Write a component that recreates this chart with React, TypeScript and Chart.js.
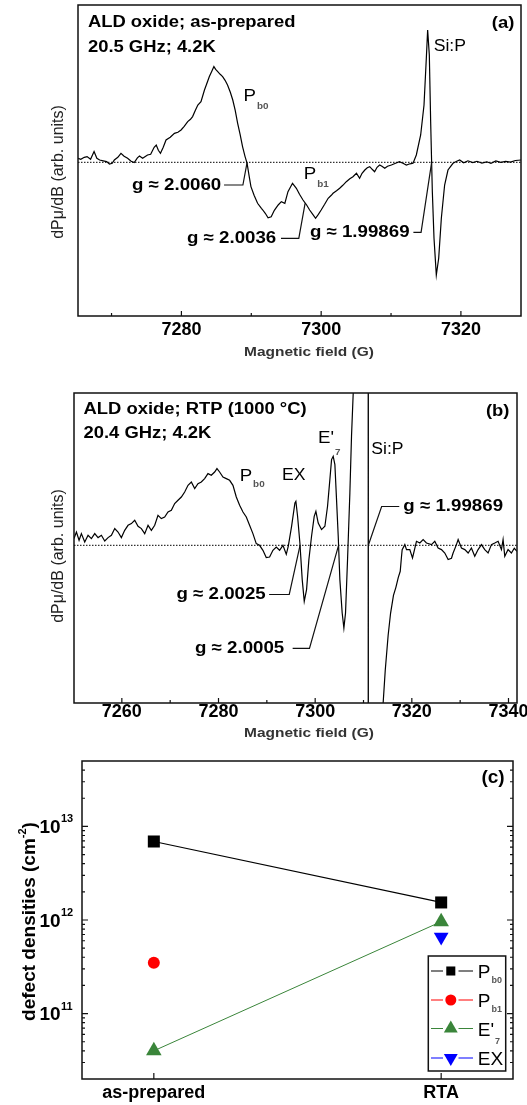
import React, { useEffect, useRef } from 'react';
import { Chart, registerables } from 'chart.js';

Chart.register(...registerables);

const FONT = '"Liberation Sans", Arial, Helvetica, sans-serif';
const INK = '#111';

// ---------------- Panel (a): ALD oxide, as-prepared ----------------
const fieldA = [
  7265.2, 7265.6, 7266.1, 7266.5, 7267.0, 7267.5, 7267.9, 7268.3, 7268.8, 7269.3,
  7269.7, 7270.1, 7270.4, 7270.9, 7271.35, 7271.8, 7272.3, 7272.8, 7273.25, 7273.7,
  7274.0, 7274.45, 7275.15, 7275.6, 7276.1, 7276.4, 7276.7, 7277.0, 7277.4, 7277.8,
  7278.4, 7279.0, 7279.5, 7279.95, 7280.4, 7280.9, 7281.3, 7281.6, 7282.0, 7282.35,
  7282.8, 7283.3, 7283.6, 7284.0, 7284.35, 7284.65, 7284.9, 7285.2, 7285.55, 7285.9,
  7286.25, 7286.6, 7287.0, 7287.35, 7287.7, 7288.05, 7288.4, 7288.75, 7289.1, 7289.4,
  7289.7, 7289.95, 7290.4, 7290.9, 7291.45, 7291.65, 7292.0, 7292.4, 7292.85, 7293.3,
  7293.85, 7294.3, 7294.8, 7295.25, 7295.9, 7296.45, 7296.9, 7297.4, 7297.9, 7298.35,
  7298.8, 7299.2, 7299.6, 7300.0, 7300.5, 7301.0, 7301.45, 7301.7, 7302.2, 7302.65,
  7303.1, 7303.6, 7304.1, 7304.55, 7305.05, 7305.5, 7305.85, 7306.25, 7306.6, 7306.95,
  7307.3, 7307.65, 7308.0, 7308.37, 7308.7, 7309.1, 7309.5, 7310.05, 7310.65, 7311.2,
  7311.7, 7312.2, 7312.7, 7313.15, 7313.62, 7314.24, 7314.72, 7315.05, 7315.24, 7315.48,
  7315.67, 7315.91, 7316.15, 7316.48, 7316.82, 7317.2, 7317.67, 7318.15, 7318.87, 7319.4,
  7319.82, 7320.4, 7321.0, 7321.7, 7322.3, 7323.0, 7323.7, 7324.3, 7325.0, 7325.7,
  7326.4, 7327.1, 7327.8, 7328.6,
];
const signalA = [
  4, 3, 5, 5.7, 3, 10.7, 4, 2.3, 1.5, 0.7,
  -1.7, -1, 2.3, 5, 9, 6, 4, 1, -0.3, 4.5,
  6.3, 4, 7.3, 8, 15, 17.3, 12, 9, 15, 22.3,
  25, 29, 30, 32.3, 36, 40.7, 43, 45.7, 52, 57.3,
  60.7, 72.3, 78, 85.7, 91, 95.7, 93, 90.7, 88, 85.7,
  82, 77.3, 70, 62.3, 52, 39, 28, 15.7, 6, -1,
  -14, -24.3, -33, -41, -46, -47.7, -51, -55.5, -54.4, -48,
  -42.7, -39.4, -41, -29.4, -21, -26, -32, -37.7, -42.5, -47.7,
  -52, -56, -52, -47.7, -42, -36, -33, -31, -28.5, -26,
  -23, -19.4, -16.5, -14.4, -11, -16, -11, -7.7, -5.5, -4.4,
  -7, -9.4, -5, -2.7, -4, -6, -4, -2.7, -1, 0.6,
  -1, -2.7, -1.5, -1, 7.3, 27.3, 57.3, 104, 132.3, 107.3,
  40.7, -29.3, -76, -112.7, -96, -56, -22.7, -7.7, -1, 1,
  2.3, -0.5, 1.5, -0.3, 1, -0.8, 0.5, -1, 1.3, 0,
  1, 0.2, 1.8, 2.3,
];
const ticksA = [7280, 7300, 7320];
const minorTicksA = [7270, 7290, 7310];

// ---------------- Panel (b): ALD oxide, RTP (1000 °C) ----------------
const fieldB = [
  7250.1, 7250.6, 7251.15, 7251.63, 7252.32, 7253.01, 7253.7, 7254.39, 7255.08, 7255.77,
  7256.46, 7257.15, 7257.84, 7258.53, 7259.21, 7259.9, 7260.59, 7261.28, 7261.97, 7262.66,
  7263.35, 7264.04, 7264.73, 7265.42, 7266.11, 7266.8, 7267.48, 7268.17, 7268.86, 7269.55,
  7270.24, 7270.93, 7271.62, 7272.31, 7273.0, 7273.69, 7274.38, 7275.07, 7275.75, 7276.44,
  7277.13, 7277.82, 7278.51, 7279.2, 7279.68, 7280.23, 7280.92, 7281.61, 7282.3, 7282.99,
  7283.68, 7284.37, 7285.06, 7285.75, 7286.43, 7287.12, 7287.81, 7288.5, 7289.19, 7289.88,
  7290.57, 7291.26, 7291.95, 7292.64, 7293.33, 7294.02, 7294.43, 7295.12, 7295.81, 7296.01,
  7296.36, 7296.84, 7297.32, 7297.74, 7298.22, 7298.7, 7299.25, 7299.8, 7300.15, 7300.63,
  7301.32, 7302.01, 7302.56, 7303.04, 7303.39, 7303.73, 7304.08, 7304.42, 7304.77, 7305.11,
  7305.59, 7305.94, 7306.28, 7306.7, 7307.18, 7307.52, 7307.87, 7308.21, 7309.2, 7310.2,
  7310.95, 7311.0, 7312.2, 7313.5, 7314.06, 7314.5, 7315.1, 7315.6, 7316.2, 7316.7,
  7317.2, 7317.6, 7317.85, 7318.0, 7318.55, 7318.9, 7319.58, 7320.14, 7320.96, 7321.65,
  7322.34, 7323.03, 7324.06, 7324.75, 7325.44, 7326.13, 7326.82, 7327.51, 7328.2, 7328.54,
  7329.23, 7329.58, 7330.27, 7330.96, 7331.65, 7332.33, 7333.02, 7333.71, 7334.4, 7335.09,
  7335.78, 7336.47, 7337.16, 7337.85, 7338.54, 7338.88, 7339.23, 7339.91, 7340.6, 7341.2,
  7341.76,
];
const signalB = [
  6.7, 13.3, 5, 11.7, 3.3, 10, 6.7, 11.7, 7.7, 10,
  4.3, 7.7, 10, 16.7, 13.3, 7.7, 15, 20, 21.7, 25,
  19, 16.7, 11.7, 20, 15, 20, 30, 26.7, 28.3, 33.3,
  35, 41.7, 45, 48.3, 53.3, 60, 63.3, 56.7, 61.7, 63.3,
  66.7, 71.7, 70, 73.3, 76.7, 73.3, 68.3, 66.7, 65, 60,
  48.3, 40, 33.3, 28.3, 20, 11.7, 1.7, 0, -5, -12.3,
  -11.7, -5, -1.7, -5, 0, -9, -1, 19, 42.3, 44,
  29, 2.3, -34.3, -56, -44.3, -14.3, 9, 29, 34, 22.3,
  15.7, 19, 39, 65.7, 85.7, 89, 80.7, 45.7, 9, -34.3,
  -67.7, -82.7, -67.7, -14.3, 52.3, 109, 152, 220, 500, 850,
  1000, -1000, -800, -350, -158, -125, -90, -68, -50, -42,
  -32, -26, -12, -4.3, 0.7, -4.3, -4.3, -12.7, 4, 2.3,
  5.7, 2.3, 0.7, 4, -2.7, -4.3, -7.7, -14.3, -13, -7.7,
  0.7, 5.7, -2.7, -4.3, -7.7, -2.7, -11, -4.3, 0.7, -4.3,
  -7.7, 0.7, 2.3, 4, -4.3, 5.7, -11, -4.3, -7.7, -3,
  -6,
];
const ticksB = [7260, 7280, 7300, 7320, 7340];
const minorTicksB = [7270, 7290, 7310, 7330];

// ---------------- Panel (c): defect densities ----------------
const categoriesC = ['as-prepared', 'RTA'];
const pb0Density = [6.9e12, 1.54e12];
const pb1Density = [3.5e11, null];
const e7Density = [4.0e10, 9.6e11];
const exDensity = [null, 6.6e11];
const decadeTicksC = [1e11, 1e12, 1e13];

// ---------------- annotations (data coordinates) ----------------
const notesA = [
  { t: 'ALD oxide; as-prepared', x: 7266.62, y: 139.5, size: 16, bold: true, sx: 1.15 },
  { t: '20.5 GHz; 4.2K', x: 7266.62, y: 115, size: 16, bold: true, sx: 1.15 },
  { t: '(a)', x: 7327.65, y: 138.3, size: 16, bold: true, sx: 1.15, align: 'right' },
  { t: 'Si:P', x: 7316.1, y: 115.8, size: 16, sx: 1.1 },
  { t: 'P', sub: 'b0', x: 7288.9, y: 65.8, size: 17, sx: 1.1, subDy: 10.5 },
  { t: 'P', sub: 'b1', x: 7297.5, y: -11.7, size: 17, sx: 1.1, subDy: 10.5 },
  { t: 'g ≈ 2.0060', x: 7285.7, y: -22.7, size: 17, bold: true, sx: 1.1, align: 'right' },
  { t: 'g ≈ 2.0036', x: 7293.57, y: -76, size: 17, bold: true, sx: 1.1, align: 'right' },
  { t: 'g ≈ 1.99869', x: 7312.65, y: -70, size: 17, bold: true, sx: 1.1, align: 'right' },
];
const leadersA = [
  [[7286.1, -22.7], [7288.8, -22.7], [7289.4, 0]],
  [[7294.25, -76], [7296.8, -76], [7297.7, -41]],
  [[7313.2, -70], [7314.3, -70], [7315.81, 0]],
];

const notesB = [
  { t: 'ALD oxide; RTP (1000 °C)', x: 7252.07, y: 135.3, size: 16, bold: true, sx: 1.15 },
  { t: '20.4 GHz; 4.2K', x: 7252.07, y: 112, size: 16, bold: true, sx: 1.15 },
  { t: '(b)', x: 7340.2, y: 133.6, size: 16, bold: true, sx: 1.15, align: 'right' },
  { t: "E'", sub: '7', x: 7300.6, y: 107.3, size: 17, sx: 1.1, subDy: 15 },
  { t: 'Si:P', x: 7311.6, y: 95.8, size: 16, sx: 1.1 },
  { t: 'P', sub: 'b0', x: 7284.37, y: 69.3, size: 17, sx: 1.1, subDy: 8.5 },
  { t: 'EX', x: 7293.15, y: 69.3, size: 16, sx: 1.1 },
  { t: 'g ≈ 2.0025', x: 7289.77, y: -49.2, size: 17, bold: true, sx: 1.1, align: 'right' },
  { t: 'g ≈ 2.0005', x: 7293.6, y: -103, size: 17, bold: true, sx: 1.1, align: 'right' },
  { t: 'g ≈ 1.99869', x: 7318.25, y: 38.8, size: 17, bold: true, sx: 1.1 },
];
const leadersB = [
  [[7290.47, -49.2], [7294.64, -49.2], [7296.87, 0]],
  [[7295.34, -103], [7298.82, -103], [7304.84, 0]],
  [[7317.4, 38.8], [7313.75, 38.8], [7311.0, 0]],
];

// ---------------- drawing helpers ----------------
function drawText(ctx: any, s: string, x: number, y: number, o: any): number {
  const sx = o.sx ?? 1;
  ctx.save();
  ctx.translate(x, y);
  if (o.rot) ctx.rotate(o.rot);
  ctx.scale(sx, 1);
  ctx.font = `${o.bold ? 'bold ' : ''}${o.size}px ${FONT}`;
  ctx.fillStyle = o.color ?? '#000';
  ctx.textAlign = o.align ?? 'left';
  ctx.textBaseline = 'middle';
  ctx.fillText(s, 0, 0);
  const w = ctx.measureText(s).width * sx;
  ctx.restore();
  return w;
}

function drawFrame(ctx: any, a: any) {
  ctx.save();
  ctx.strokeStyle = INK;
  ctx.lineWidth = 1.5;
  ctx.strokeRect(a.left, a.top, a.right - a.left, a.bottom - a.top);
  ctx.restore();
}

function drawXTicks(ctx: any, chart: any, majors: number[], minors: number[], majLen: number, minLen: number) {
  const xs = chart.scales.x;
  const a = chart.chartArea;
  ctx.save();
  ctx.strokeStyle = INK;
  ctx.lineWidth = 1.2;
  ctx.beginPath();
  majors.forEach((v) => {
    const p = xs.getPixelForValue(v);
    ctx.moveTo(p, a.bottom);
    ctx.lineTo(p, a.bottom - majLen);
  });
  minors.forEach((v) => {
    const p = xs.getPixelForValue(v);
    ctx.moveTo(p, a.bottom);
    ctx.lineTo(p, a.bottom - minLen);
  });
  ctx.stroke();
  ctx.restore();
}

function drawNotes(ctx: any, chart: any, notes: any[]) {
  const xs = chart.scales.x;
  const ys = chart.scales.y;
  notes.forEach((n) => {
    const px = xs.getPixelForValue(n.x);
    const py = ys.getPixelForValue(n.y);
    const w = drawText(ctx, n.t, px, py, n);
    if (n.sub) {
      drawText(ctx, n.sub, px + w + (n.subDx ?? 1), py + (n.subDy ?? 9), { size: 9, bold: true, color: '#555', sx: n.sx });
    }
  });
}

function drawLeaders(ctx: any, chart: any, leaders: number[][][]) {
  const xs = chart.scales.x;
  const ys = chart.scales.y;
  ctx.save();
  ctx.strokeStyle = INK;
  ctx.lineWidth = 1.2;
  leaders.forEach((pts) => {
    ctx.beginPath();
    pts.forEach(([gx, gy], i) => {
      const px = xs.getPixelForValue(gx);
      const py = ys.getPixelForValue(gy);
      if (i === 0) ctx.moveTo(px, py);
      else ctx.lineTo(px, py);
    });
    ctx.stroke();
  });
  ctx.restore();
}

function drawMarker(ctx: any, style: string, x: number, y: number, r: number, color: string, rotDeg: number) {
  ctx.save();
  ctx.translate(x, y);
  ctx.rotate(((rotDeg || 0) * Math.PI) / 180);
  ctx.fillStyle = color;
  ctx.beginPath();
  if (style === 'rect') {
    const h = r * Math.SQRT1_2;
    ctx.rect(-h, -h, 2 * h, 2 * h);
  } else if (style === 'triangle') {
    ctx.moveTo(0, -r);
    ctx.lineTo(r * 0.866, r * 0.5);
    ctx.lineTo(-r * 0.866, r * 0.5);
    ctx.closePath();
  } else {
    ctx.arc(0, 0, r, 0, Math.PI * 2);
  }
  ctx.fill();
  ctx.restore();
}

function spectrumDecor(notes: any[], leaders: number[][][], majors: number[], minors: number[], yTitleY: number, xTitleY: number) {
  return {
    id: 'spectrumDecor',
    beforeDatasetsDraw(chart: any) {
      const ctx = chart.ctx;
      const a = chart.chartArea;
      const y0 = chart.scales.y.getPixelForValue(0);
      ctx.save();
      ctx.strokeStyle = '#000';
      ctx.lineWidth = 1;
      ctx.setLineDash([1.5, 1.5]);
      ctx.beginPath();
      ctx.moveTo(a.left, y0);
      ctx.lineTo(a.right, y0);
      ctx.stroke();
      ctx.restore();
    },
    afterDatasetsDraw(chart: any) {
      const ctx = chart.ctx;
      const a = chart.chartArea;
      drawFrame(ctx, a);
      drawXTicks(ctx, chart, majors, minors, 5, 3);
      drawLeaders(ctx, chart, leaders);
      drawNotes(ctx, chart, notes);
      drawText(ctx, 'dPμ/dB (arb. units)', 59, yTitleY, { size: 16, rot: -Math.PI / 2, align: 'center', color: '#222' });
      drawText(ctx, 'Magnetic field (G)', 309, xTitleY, { size: 13, bold: true, sx: 1.19, align: 'center', color: '#333' });
    },
  };
}

function spectrumConfig(field: number[], signal: number[], xMin: number, xMax: number, yMin: number, yMax: number, pad: any, xHeight: number, ticks: number[], tickPad: number, decor: any): any {
  return {
    type: 'line',
    data: {
      datasets: [
        {
          data: field.map((x, i) => ({ x, y: signal[i] })),
          borderColor: '#000',
          borderWidth: 1.2,
          pointRadius: 0,
          tension: 0,
          fill: false,
        },
      ],
    },
    options: {
      animation: false,
      responsive: false,
      maintainAspectRatio: false,
      events: [],
      layout: { padding: pad },
      plugins: { legend: { display: false }, tooltip: { enabled: false }, title: { display: false } },
      scales: {
        x: {
          type: 'linear',
          min: xMin,
          max: xMax,
          grid: { display: false, drawTicks: false },
          border: { display: false },
          afterBuildTicks: (s: any) => {
            s.ticks = ticks.map((value) => ({ value }));
          },
          afterFit: (s: any) => {
            s.height = xHeight;
            s.paddingLeft = 0;
            s.paddingRight = 0;
          },
          ticks: {
            autoSkip: false,
            maxRotation: 0,
            minRotation: 0,
            padding: tickPad,
            color: '#000',
            font: { family: FONT, size: 18, weight: 'bold', lineHeight: 1 },
            callback: (v: any) => String(v),
          },
        },
        y: { type: 'linear', display: false, min: yMin, max: yMax },
      },
    },
    plugins: [decor],
  };
}

const legendRowsC = [223, 252, 280.5, 310];
const legendRadiiC = [6.4, 5.5, 8, 8];

const densityDecor = {
  id: 'densityDecor',
  afterDatasetsDraw(chart: any) {
    const ctx = chart.ctx;
    const a = chart.chartArea;
    const ys = chart.scales.y;
    const xs = chart.scales.x;
    drawFrame(ctx, a);
    // ticks (inward) on left and right axes, bottom categories
    ctx.save();
    ctx.strokeStyle = INK;
    ctx.lineWidth = 1.2;
    ctx.beginPath();
    for (let k = 10; k <= 13; k++) {
      for (let m = 1; m <= 9; m++) {
        const v = m * Math.pow(10, k);
        if (v <= ys.min * 1.001 || v >= ys.max * 0.999) continue;
        const p = ys.getPixelForValue(v);
        const len = m === 1 ? 6 : 3;
        ctx.moveTo(a.left, p);
        ctx.lineTo(a.left + len, p);
        ctx.moveTo(a.right, p);
        ctx.lineTo(a.right - len, p);
      }
    }
    categoriesC.forEach((_, i) => {
      const p = xs.getPixelForValue(i);
      ctx.moveTo(p, a.bottom);
      ctx.lineTo(p, a.bottom - 6);
    });
    ctx.stroke();
    ctx.restore();
    // y tick labels 10^n
    decadeTicksC.forEach((v) => {
      const p = ys.getPixelForValue(v);
      const exp = Math.round(Math.log10(v));
      drawText(ctx, '10', 60.6, p + 1.5, { size: 19, bold: true, align: 'right' });
      drawText(ctx, String(exp), 61, p - 7, { size: 11, bold: true });
    });
    // y title with superscript
    ctx.save();
    ctx.translate(30, 173.5);
    ctx.rotate(-Math.PI / 2);
    ctx.fillStyle = '#000';
    ctx.textBaseline = 'middle';
    ctx.textAlign = 'left';
    const big = `bold 19px ${FONT}`;
    const small = `bold 11px ${FONT}`;
    ctx.font = big;
    const p1 = 'defect densities (cm';
    const w1 = ctx.measureText(p1).width;
    const w3 = ctx.measureText(')').width;
    ctx.font = small;
    const w2 = ctx.measureText('-2').width;
    const x0 = -(w1 + w2 + w3) / 2;
    ctx.font = big;
    ctx.fillText(p1, x0, 0);
    ctx.font = small;
    ctx.fillText('-2', x0 + w1, -7);
    ctx.font = big;
    ctx.fillText(')', x0 + w1 + w2, 0);
    ctx.restore();
    // panel label
    drawText(ctx, '(c)', 504.7, 30, { size: 19, bold: true, align: 'right' });
    // legend
    ctx.save();
    ctx.strokeStyle = INK;
    ctx.lineWidth = 1.5;
    ctx.strokeRect(428.3, 208, 77.4, 115);
    ctx.restore();
    chart.data.datasets.forEach((ds: any, i: number) => {
      const y = legendRowsC[i];
      ctx.save();
      ctx.strokeStyle = ds.borderColor;
      ctx.lineWidth = 1.2;
      ctx.beginPath();
      ctx.moveTo(431, y);
      ctx.lineTo(443, y);
      ctx.moveTo(458.5, y);
      ctx.lineTo(473, y);
      ctx.stroke();
      ctx.restore();
      drawMarker(ctx, ds.pointStyle, 450.8, y, legendRadiiC[i], ds.backgroundColor, ds.pointRotation || 0);
      const parts = String(ds.label).split('_');
      const w = drawText(ctx, parts[0], 477.8, y + 2, { size: 19 });
      if (parts[1]) {
        drawText(ctx, parts[1], 477.8 + w + 1, y + (parts[0] === "E'" ? 13 : 9.5), { size: 9, bold: true, color: '#555' });
      }
    });
  },
};

function toPts(arr: (number | null)[]) {
  return arr.map((v, i) => (v == null ? null : { x: i, y: v })).filter((p) => p !== null);
}

function densityConfig(): any {
  return {
    type: 'line',
    data: {
      datasets: [
        { label: 'P_b0', data: toPts(pb0Density), borderColor: '#000000', backgroundColor: '#000000', borderWidth: 1.2, pointStyle: 'rect', pointRadius: 8.5, pointBorderWidth: 0, showLine: true, tension: 0 },
        { label: 'P_b1', data: toPts(pb1Density), borderColor: '#ff0000', backgroundColor: '#ff0000', borderWidth: 1, pointStyle: 'circle', pointRadius: 6, pointBorderWidth: 0, showLine: false },
        { label: "E'_7", data: toPts(e7Density), borderColor: '#3a853a', backgroundColor: '#3a853a', borderWidth: 1, pointStyle: 'triangle', pointRadius: 9, pointBorderWidth: 0, showLine: true, tension: 0 },
        { label: 'EX', data: toPts(exDensity), borderColor: '#0000ff', backgroundColor: '#0000ff', borderWidth: 1, pointStyle: 'triangle', pointRotation: 180, pointRadius: 8.5, pointBorderWidth: 0, showLine: false },
      ],
    },
    options: {
      animation: false,
      responsive: false,
      maintainAspectRatio: false,
      events: [],
      layout: { padding: { left: 82, right: 14, top: 13, bottom: 0 } },
      plugins: { legend: { display: false }, tooltip: { enabled: false }, title: { display: false } },
      scales: {
        x: {
          type: 'linear',
          min: -0.25,
          max: 1.25,
          grid: { display: false, drawTicks: false },
          border: { display: false },
          afterBuildTicks: (s: any) => {
            s.ticks = categoriesC.map((_, i) => ({ value: i }));
          },
          afterFit: (s: any) => {
            s.height = 26;
            s.paddingLeft = 0;
            s.paddingRight = 0;
          },
          ticks: {
            autoSkip: false,
            maxRotation: 0,
            minRotation: 0,
            padding: 5,
            color: '#000',
            font: { family: FONT, size: 18, weight: 'bold', lineHeight: 1 },
            callback: (v: any) => categoriesC[v] ?? '',
          },
        },
        y: { type: 'logarithmic', display: false, min: 2e10, max: 5e13 },
      },
    },
    plugins: [densityDecor],
  };
}

export default function App() {
  const refA = useRef<HTMLCanvasElement>(null);
  const refB = useRef<HTMLCanvasElement>(null);
  const refC = useRef<HTMLCanvasElement>(null);

  useEffect(() => {
    const charts = [
      new Chart(
        refA.current as HTMLCanvasElement,
        spectrumConfig(fieldA, signalA, 7265.2, 7328.6, -153.7, 157.3, { left: 78, right: 6, top: 5, bottom: 0 }, 50, ticksA, 5,
          spectrumDecor(notesA, leadersA, ticksA, minorTicksA, 172, 352))
      ),
      new Chart(
        refB.current as HTMLCanvasElement,
        spectrumConfig(fieldB, signalB, 7250.1, 7341.76, -157.7, 152.3, { left: 74, right: 10, top: 27, bottom: 0 }, 45, ticksB, 0,
          spectrumDecor(notesB, leadersB, ticksB, minorTicksB, 190, 367))
      ),
      new Chart(refC.current as HTMLCanvasElement, densityConfig()),
    ];
    return () => charts.forEach((c) => c.destroy());
  }, []);

  return (
    <div style={{ position: 'absolute', left: 0, top: 0, width: 527, height: 1105, background: '#fff', overflow: 'hidden' }}>
      <canvas ref={refA} width={527} height={366} style={{ position: 'absolute', left: 0, top: 0 }} />
      <canvas ref={refB} width={527} height={382} style={{ position: 'absolute', left: 0, top: 366 }} />
      <canvas ref={refC} width={527} height={357} style={{ position: 'absolute', left: 0, top: 748 }} />
    </div>
  );
}
